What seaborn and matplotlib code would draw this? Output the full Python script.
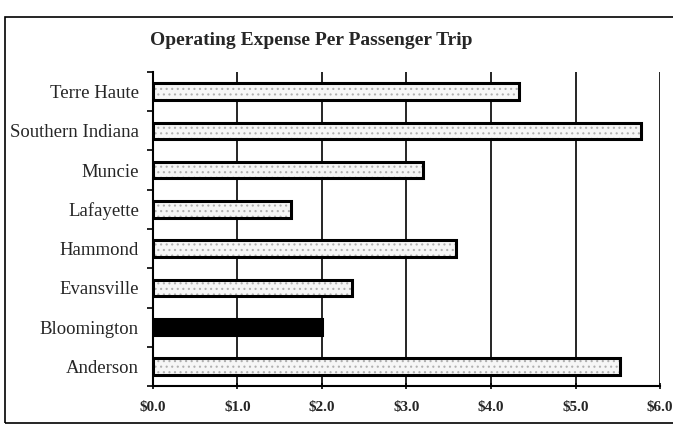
import matplotlib
matplotlib.use('Agg')
import matplotlib.pyplot as plt
from matplotlib.patches import Rectangle
import seaborn as sns
import pandas as pd
import numpy as np

# data (dollars per passenger trip)
cities = ['Terre Haute', 'Southern Indiana', 'Muncie', 'Lafayette',
          'Hammond', 'Evansville', 'Bloomington', 'Anderson']
expense = [4.33, 5.77, 3.20, 1.63, 3.58, 2.35, 2.00, 5.53]
highlight = 'Bloomington'
xticks = [0, 1, 2, 3, 4, 5, 6]
xticklabels = ['$0.0', '$1.0', '$2.0', '$3.0', '$4.0', '$5.0', '$6.0']

df = pd.DataFrame({'city': cities, 'expense': expense})

sns.set_theme(style='white')
plt.rcParams['font.family'] = ['Liberation Serif', 'DejaVu Serif']
plt.rcParams['hatch.linewidth'] = 0.8

fig = plt.figure(figsize=(6.73, 4.28), dpi=100)
ax = fig.add_axes([0.227, 0.098, 0.754, 0.734])

# gridlines first so bars sit on top
ax.set_axisbelow(True)
for x in xticks[1:]:
    ax.axvline(x, color='black', lw=1.2, zorder=0)

# light dotted fill layer
sns.barplot(data=df, x='expense', y='city', order=cities, orient='h',
            color='#f6f6f6', width=0.42, ax=ax, saturation=1,
            edgecolor='#b0b0b0', linewidth=0, hatch='...', zorder=2)
# outline layer
sns.barplot(data=df, x='expense', y='city', order=cities, orient='h',
            color='none', width=0.42, ax=ax, saturation=1,
            edgecolor='black', linewidth=2.2, zorder=3)

n = len(cities)
for i, p in enumerate(ax.patches):
    if cities[i % n] == highlight:
        p.set_facecolor('black')
        p.set_hatch('')

ax.set_xlim(0, 6)
ax.set_ylim(n - 0.5, -0.5)
ax.set_xticks(xticks)
ax.set_xticklabels(xticklabels, fontsize=11, fontweight='bold')
ax.set_yticks(range(n))
ax.set_yticklabels(cities, fontsize=13.5)
ax.set_yticks(np.arange(-0.5, n, 1), minor=True)
ax.tick_params(axis='y', which='major', length=0, pad=10)
ax.tick_params(axis='y', which='minor', length=4, width=1.2, direction='out', color='black', left=True)
ax.tick_params(axis='x', which='major', length=5, width=1.2, direction='inout', color='black', bottom=True, pad=8)
ax.set_xlabel('')
ax.set_ylabel('')

for s in ['top', 'right']:
    ax.spines[s].set_visible(False)
for s in ['left', 'bottom']:
    ax.spines[s].set_color('black')
    ax.spines[s].set_linewidth(1.5)

fig.text(0.463, 0.905, 'Operating Expense Per Passenger Trip',
         ha='center', va='center', fontsize=14, fontweight='bold')

# scanned page border
fig.patches.append(Rectangle((0.008, 0.012), 1.2, 0.948, transform=fig.transFigure,
                             fill=False, edgecolor='black', lw=1.2))

fig.savefig('out.png', dpi=100)
